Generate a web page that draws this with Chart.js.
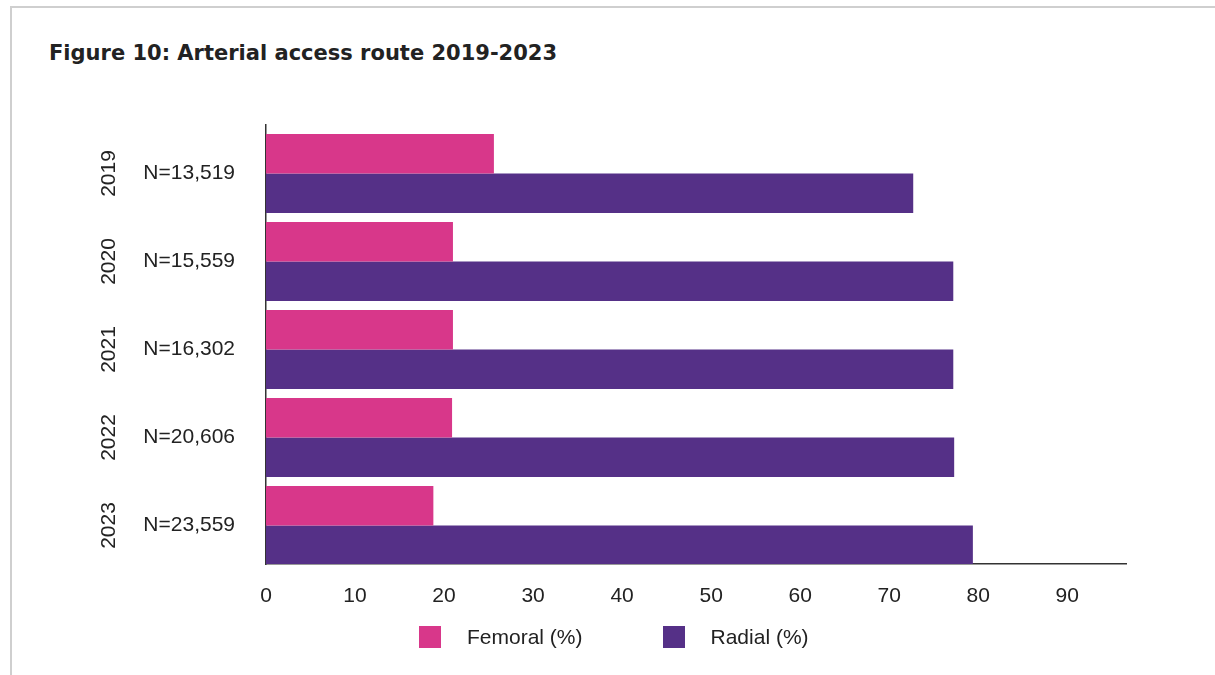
<!DOCTYPE html>
<html>
<head>
<meta charset="utf-8">
<script src="https://cdn.jsdelivr.net/npm/chart.js@4.4.1/dist/chart.umd.min.js"></script>
<style>
  html, body { margin: 0; padding: 0; background: #fff; }
  #wrap { position: relative; width: 1215px; height: 675px; overflow: hidden; }
  #frame {
    position: absolute; left: 10px; top: 6px; right: -4px; bottom: -4px;
    border-top: 2px solid #cfcfcf; border-left: 2px solid #cfcfcf;
  }
  #title {
    position: absolute; left: 49px; top: 41px; margin: 0;
    font: bold 21px "DejaVu Sans", sans-serif; color: #222; line-height: 1.2;
  }
  canvas { position: absolute; left: 0; top: 0; }
  #legend {
    position: absolute; left: 419px; top: 625px; display: flex; align-items: center;
    font: 21px "Liberation Sans", Arial, sans-serif; color: #222;
  }
  #legend .item { display: flex; align-items: center; margin-right: 80px; }
  #legend .box { width: 22px; height: 22px; margin-right: 26px; }
</style>
</head>
<body>
<div id="wrap">
  <div id="frame"></div>
  <h1 id="title">Figure 10: Arterial access route 2019-2023</h1>
  <canvas id="chart" width="1215" height="675"></canvas>
  <div id="legend"></div>
</div>
<script>
// Access route share per year, in percent
const years = ['2019', '2020', '2021', '2022', '2023'];
const counts = ['N=13,519', 'N=15,559', 'N=16,302', 'N=20,606', 'N=23,559'];
const femoral = [25.6, 21.0, 21.0, 20.9, 18.8];
const radial = [72.7, 77.2, 77.2, 77.3, 79.4];
const seriesNames = ['Femoral (%)', 'Radial (%)'];
const seriesColors = ['#d8378a', '#553087'];

const FONT = '"Liberation Sans", Arial, sans-serif';
const INK = '#222';

// bars sit on a numeric row index so the groups can hug the x axis
const rows = (vals) => vals.map((v, i) => ({ x: v, y: i }));

// rotated year labels to the left of the N= labels
const yearLabels = {
    id: 'yearLabels',
    afterDraw(chart) {
        const ctx = chart.ctx;
        const yScale = chart.scales.y;
        ctx.save();
        ctx.font = '21px ' + FONT;
        ctx.fillStyle = INK;
        ctx.textAlign = 'center';
        ctx.textBaseline = 'middle';
        years.forEach((yr, i) => {
            ctx.save();
            ctx.translate(109, yScale.getPixelForValue(i));
            ctx.rotate(-Math.PI / 2);
            ctx.fillText(yr, 0, 0);
            ctx.restore();
        });
        ctx.restore();
    }
};

new Chart(document.getElementById('chart'), {
    type: 'bar',
    data: {
        datasets: [
            { label: seriesNames[0], data: rows(femoral), backgroundColor: seriesColors[0] },
            { label: seriesNames[1], data: rows(radial), backgroundColor: seriesColors[1] }
        ]
    },
    options: {
        indexAxis: 'y',
        responsive: false,
        animation: false,
        layout: { padding: { left: 0, top: 125, right: 89, bottom: 61 } },
        datasets: { bar: { categoryPercentage: 0.9, barPercentage: 1.0 } },
        plugins: { legend: { display: false }, tooltip: { enabled: false } },
        scales: {
            x: {
                type: 'linear',
                min: 0,
                max: 96.6,
                grid: { display: false },
                border: { display: true, color: '#333', width: 1.5 },
                ticks: {
                    stepSize: 10,
                    includeBounds: false,
                    padding: 12,
                    color: INK,
                    font: { family: FONT, size: 21 }
                },
                afterFit(scale) { scale.height = 50; }
            },
            y: {
                type: 'linear',
                bounds: 'data',
                offset: false,
                reverse: true,
                min: -0.551,
                max: 4.4375,
                grid: { display: false, drawTicks: false, offset: false },
                border: { display: true, color: '#333', width: 1.5 },
                afterBuildTicks(scale) {
                    scale.ticks = years.map((_, i) => ({ value: i }));
                },
                ticks: {
                    padding: 31,
                    color: INK,
                    font: { family: FONT, size: 21 },
                    callback: (v) => counts[v]
                },
                afterFit(scale) { scale.width = 266; }
            }
        }
    },
    plugins: [yearLabels]
});

// legend row under the axis
const legend = document.getElementById('legend');
seriesNames.forEach((name, i) => {
    const item = document.createElement('div');
    item.className = 'item';
    item.innerHTML = '<span class="box" style="background:' + seriesColors[i] + '"></span><span>' + name + '</span>';
    legend.appendChild(item);
});
</script>
</body>
</html>
